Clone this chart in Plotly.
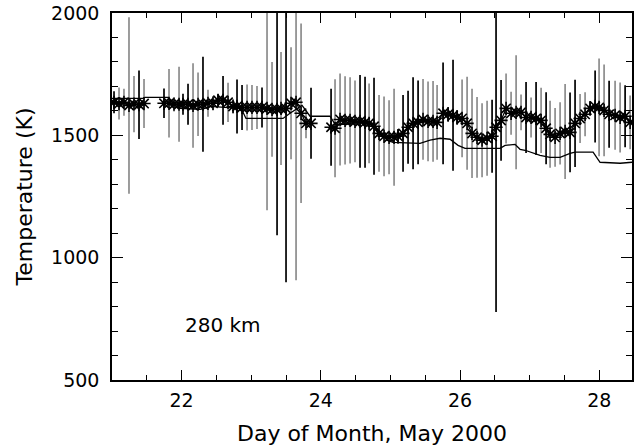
import plotly.graph_objects as go

# ---- observed data (day of month, temperature K, 1-sigma error, error-bar colour group) ----
seg_a_day = [21.029, 21.101, 21.172, 21.244, 21.316, 21.388, 21.460]
seg_a_temp = [1635, 1630, 1635, 1622, 1628, 1625, 1630]
seg_a_err = [45, 65, 55, 361, 115, 140, 100]
seg_a_grp = ["k", "g", "g", "g", "g", "k", "g"]

seg_b_day = [21.747, 21.819, 21.891, 21.963, 22.020, 22.092, 22.164, 22.236, 22.307, 22.379,
             22.451, 22.523, 22.595, 22.667, 22.739, 22.796, 22.868, 22.940, 23.011, 23.083,
             23.155, 23.227, 23.299, 23.371, 23.428, 23.500, 23.572, 23.644, 23.716, 23.787,
             23.859]
seg_b_temp = [1631, 1631, 1627, 1627, 1627, 1627, 1622, 1627, 1627, 1631,
              1631, 1643, 1643, 1635, 1618, 1618, 1614, 1614, 1614, 1614,
              1614, 1610, 1606, 1606, 1610, 1610, 1631, 1635, 1590, 1549,
              1549]
seg_b_err = [60, 140, 30, 153, 43, 84, 173, 130, 194, 55,
             30, 25, 100, 80, 30, 110, 92, 94, 92, 88,
             82, 416, 194, 514, 231, 710, 229, 727, 367, 61,
             145]
seg_b_grp = ["k", "g", "g", "g", "k", "k", "g", "g", "k", "g",
             "g", "k", "k", "g", "g", "k", "k", "g", "g", "g",
             "k", "g", "g", "k", "g", "k", "g", "g", "g", "g",
             "k"]

seg_c_day = [24.147, 24.204, 24.276, 24.348, 24.420, 24.491, 24.563, 24.635, 24.693, 24.764,
             24.836, 24.908, 24.980, 25.052, 25.109, 25.181, 25.253, 25.325, 25.397, 25.468,
             25.540, 25.612, 25.670, 25.756, 25.828, 25.899, 25.957, 26.029, 26.101, 26.172,
             26.244, 26.316, 26.388, 26.460, 26.517, 26.589, 26.661, 26.733, 26.805, 26.876,
             26.948, 27.020, 27.092, 27.164, 27.236, 27.293, 27.365, 27.437, 27.509, 27.580,
             27.652, 27.724, 27.796, 27.868, 27.940, 27.997, 28.069, 28.141, 28.227, 28.299,
             28.371, 28.443]
seg_c_temp = [1533, 1529, 1565, 1561, 1561, 1557, 1557, 1553, 1549, 1537,
              1508, 1496, 1492, 1492, 1496, 1508, 1533, 1549, 1553, 1565,
              1557, 1557, 1553, 1590, 1586, 1582, 1573, 1569, 1549, 1508,
              1492, 1480, 1488, 1496, 1533, 1561, 1610, 1590, 1594, 1594,
              1573, 1573, 1569, 1561, 1529, 1504, 1492, 1508, 1516, 1512,
              1549, 1569, 1586, 1610, 1618, 1614, 1602, 1586, 1582, 1573,
              1578, 1553]
seg_c_err = [157, 200, 188, 180, 176, 167, 190, 186, 163, 198,
             157, 163, 151, 198, 30, 157, 149, 188, 171, 165,
             163, 165, 153, 208, 30, 227, 30, 159, 190, 182,
             165, 151, 153, 149, 755, 165, 143, 88, 233, 73,
             145, 82, 149, 133, 147, 137, 120, 127, 194, 163,
             178, 100, 90, 30, 147, 200, 188, 137, 141, 143,
             127, 110]
seg_c_grp = ["k", "g", "g", "g", "g", "g", "k", "k", "g", "k",
             "g", "g", "g", "g", "k", "k", "k", "k", "k", "g",
             "g", "g", "g", "k", "k", "k", "k", "g", "g", "g",
             "g", "g", "g", "k", "k", "k", "g", "g", "g", "g",
             "k", "g", "k", "g", "k", "g", "g", "g", "g", "k",
             "k", "g", "g", "k", "k", "g", "g", "k", "g", "g",
             "k", "g"]

# ---- model curve ----
model_day = [21.000, 21.445, 21.474, 21.805, 21.905, 21.977, 22.264, 22.336, 22.408, 22.580,
             22.839, 22.882, 22.925, 23.457, 23.557, 23.730, 23.787, 23.845, 24.132, 24.204,
             24.376, 24.491, 24.707, 24.807, 24.951, 25.037, 25.425, 25.569, 25.713, 25.856,
             25.971, 26.072, 26.575, 26.647, 26.790, 26.862, 26.934, 27.149, 27.293, 27.437,
             27.580, 27.652, 27.911, 27.968, 28.011, 28.299, 28.471]
model_temp = [1651, 1651, 1655, 1655, 1631, 1610, 1606, 1610, 1618, 1614,
              1610, 1594, 1569, 1569, 1590, 1622, 1602, 1578, 1578, 1545,
              1545, 1553, 1553, 1529, 1480, 1471, 1467, 1480, 1488, 1484,
              1459, 1447, 1447, 1459, 1463, 1443, 1439, 1418, 1410, 1410,
              1426, 1431, 1431, 1406, 1390, 1386, 1390]

x_ticks = [22, 24, 26, 28]
y_ticks = [500, 1000, 1500, 2000]
label_text = "280 km"

FONT = "DejaVu Sans"
GRAY = "#8c8c8c"

segments = [
    (seg_a_day, seg_a_temp, seg_a_err, seg_a_grp),
    (seg_b_day, seg_b_temp, seg_b_err, seg_b_grp),
    (seg_c_day, seg_c_temp, seg_c_err, seg_c_grp),
]

fig = go.Figure()

# error bars, one trace per colour group
for grp, col in (("g", GRAY), ("k", "black")):
    xs, ys, es = [], [], []
    for d, t, e, g in segments:
        for i in range(len(d)):
            if g[i] == grp:
                xs.append(d[i]); ys.append(t[i]); es.append(e[i])
    fig.add_trace(go.Scatter(
        x=xs, y=ys, mode="markers",
        marker=dict(size=1, color="rgba(0,0,0,0)"),
        error_y=dict(type="data", array=es, visible=True, color=col,
                     thickness=1.7, width=0),
        showlegend=False, hoverinfo="skip"))

# model curve
fig.add_trace(go.Scatter(x=model_day, y=model_temp, mode="lines",
                         line=dict(color="black", width=1.3), showlegend=False))

# asterisk markers with connecting lines, broken at data gaps
px, py = [], []
for d, t, e, g in segments:
    px += list(d) + [None]
    py += list(t) + [None]
fig.add_trace(go.Scatter(
    x=px, y=py, mode="lines+markers", connectgaps=False,
    line=dict(color="black", width=1.2),
    marker=dict(symbol="asterisk-open", size=11, line=dict(color="black", width=1.6)),
    showlegend=False))

fig.add_annotation(x=0.213, y=0.15, xref="paper", yref="paper", text=label_text,
                   xanchor="center", yanchor="middle",
                   showarrow=False, font=dict(family=FONT, size=20, color="black"))

axis_common = dict(showgrid=False, zeroline=False, showline=True, linecolor="black",
                   linewidth=1.5, mirror="ticks", ticks="inside", tickcolor="black",
                   tickwidth=1.2, automargin=False,
                   tickfont=dict(family=FONT, size=19, color="black"))

fig.update_xaxes(range=[21, 28.47], tickvals=x_ticks, ticklen=10, ticklabelstandoff=2,
                 minor=dict(ticks="inside", dtick=0.5, tick0=21, ticklen=5,
                            tickcolor="black", tickwidth=1.2),
                 title=dict(text="Day of Month, May 2000",
                            font=dict(family=FONT, size=22, color="black"), standoff=17),
                 **axis_common)
fig.update_yaxes(range=[500, 2000], tickvals=y_ticks, ticklen=11, ticklabelstandoff=7,
                 minor=dict(ticks="inside", dtick=100, tick0=500, ticklen=6,
                            tickcolor="black", tickwidth=1.2),
                 title=dict(text="Temperature (K)",
                            font=dict(family=FONT, size=22, color="black"), standoff=12),
                 **axis_common)

fig.update_layout(width=636, height=446, plot_bgcolor="white", paper_bgcolor="white",
                  margin=dict(l=112, r=4, t=13, b=66), showlegend=False)

fig.write_html("out.html", config={"displayModeBar": False},
               post_script="document.body.style.margin='0';")
